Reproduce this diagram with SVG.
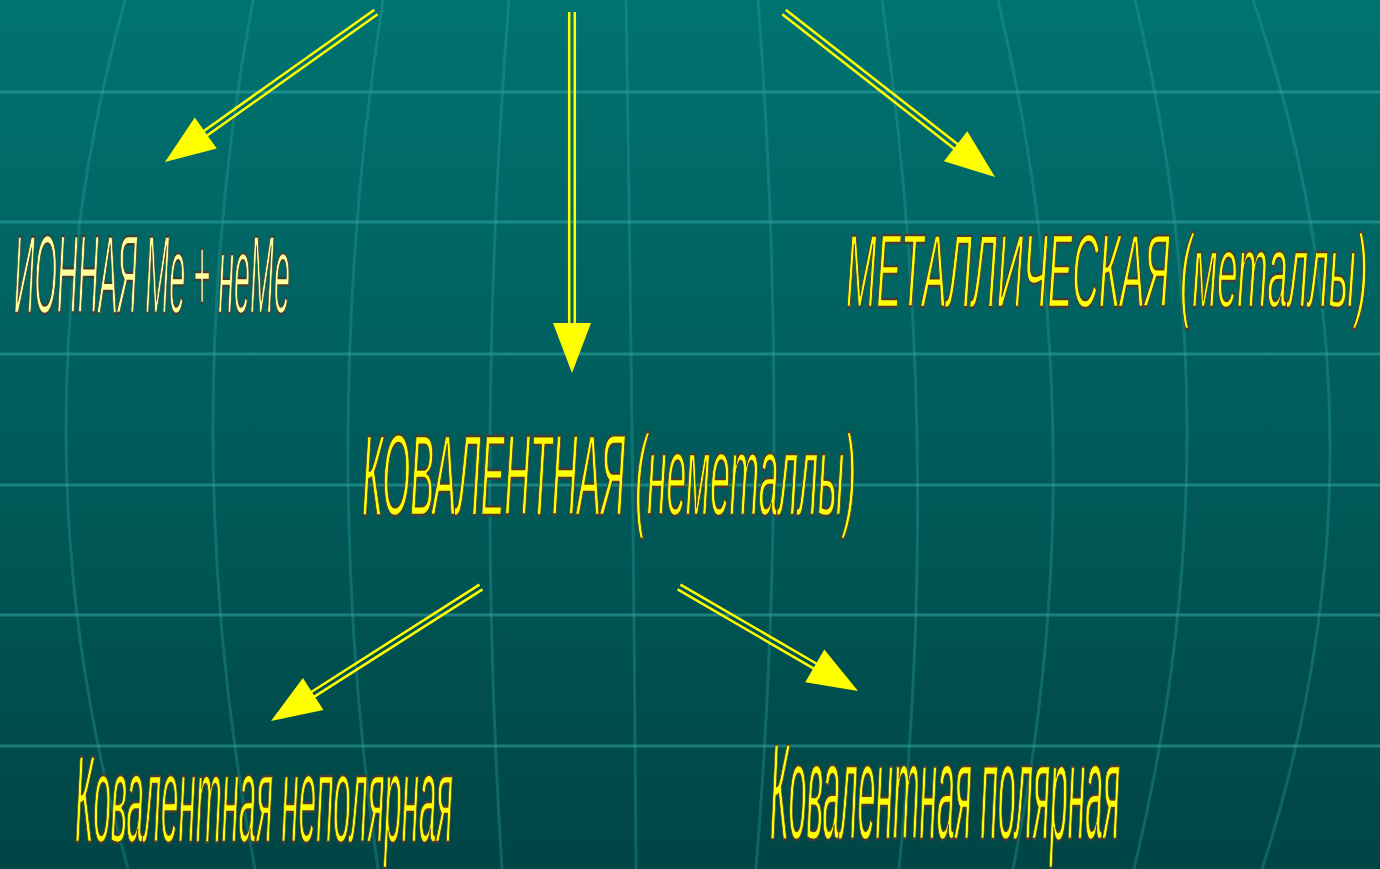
<svg xmlns="http://www.w3.org/2000/svg" width="1380" height="869" viewBox="0 0 1380 869">
<defs>
<linearGradient id="bg" x1="0" y1="0" x2="0" y2="1">
<stop offset="0" stop-color="#007371"/>
<stop offset="1" stop-color="#004545"/>
</linearGradient>
<g id="head"><polygon points="0,0 50,-19 50,19"/></g>
</defs>
<style>
.hl{stroke:#2fa8a4;stroke-opacity:0.55;stroke-width:3;fill:none}
.vl{stroke:#2fa8a4;stroke-opacity:0.32;stroke-width:3;fill:none}
.lbl{font-family:"Liberation Sans",Arial,sans-serif;font-style:italic;fill:#ffff00;stroke:#4a3c32;stroke-width:1.8;stroke-linejoin:round;vector-effect:non-scaling-stroke}
.pale{fill:#ffff9c;stroke:#3e3e36}
.shaft{stroke:#ffff00;stroke-width:2.5;fill:none}
.tip{fill:#ffff00}
</style>
<rect x="0" y="0" width="1380" height="869" fill="url(#bg)"/>
<g id="grid">
<path class="hl" d="M0 92H1380M0 222H1380M0 354H1380M0 485H1380M0 615H1380M0 746H1380"/>
<path class="vl" d="M125 0Q5.5 434.5 128 869"/>
<path class="vl" d="M253 0Q172 434.5 255 869"/>
<path class="vl" d="M383 0Q315.5 434.5 378 869"/>
<path class="vl" d="M509 0Q474.5 434.5 502 869"/>
<path class="vl" d="M626 0Q633 434.5 636 869"/>
<path class="vl" d="M758 0Q791 434.5 756 869"/>
<path class="vl" d="M882 0Q943.5 434.5 899 869"/>
<path class="vl" d="M998 0Q1100.5 434.5 1013 869"/>
<path class="vl" d="M1135 0Q1239.5 434.5 1134 869"/>
<path class="vl" d="M1253 0Q1402.5 434.5 1262 869"/>
</g>
<g id="connectors">
<g transform="translate(165,162) rotate(-35.4)">
<path class="shaft" d="M45 -2.8H258.9M45 2.8H258.9"/><use href="#head" class="tip"/>
</g>
<g transform="translate(572,373) rotate(-90)">
<path class="shaft" d="M45 -2.8H361M45 2.8H361"/><use href="#head" class="tip"/>
</g>
<g transform="translate(995,177) rotate(-141.97)">
<path class="shaft" d="M45 -2.8H267.9M45 2.8H267.9"/><use href="#head" class="tip"/>
</g>
<g transform="translate(271,721) rotate(-32.54)">
<path class="shaft" d="M45 -2.8H249.1M45 2.8H249.1"/><use href="#head" class="tip"/>
</g>
<g transform="translate(858,691) rotate(-149.84)">
<path class="shaft" d="M45 -2.8H207M45 2.8H207"/><use href="#head" class="tip"/>
</g>
</g>
<g id="node-ionic">
<text class="lbl pale" transform="translate(14,313) scale(0.256,1)" x="0" y="0" font-size="112" textLength="1078" lengthAdjust="spacingAndGlyphs">ИОННАЯ Ме + неМе</text>
</g>
<g id="node-metallic">
<text class="lbl" transform="translate(846,307) scale(0.364,1)" x="0" y="0" font-size="103" textLength="1434" lengthAdjust="spacingAndGlyphs">МЕТАЛЛИЧЕСКАЯ (металлы)</text>
</g>
<g id="node-covalent">
<text class="lbl" transform="translate(362,515) scale(0.3145,1)" x="0" y="0" font-size="115" textLength="1571" lengthAdjust="spacingAndGlyphs">КОВАЛЕНТНАЯ (неметаллы)</text>
</g>
<g id="node-nonpolar">
<text class="lbl" transform="translate(75,842) scale(0.2575,1)" x="0" y="0" font-size="124" textLength="1468" lengthAdjust="spacingAndGlyphs">Ковалентная неполярная</text>
</g>
<g id="node-polar">
<text class="lbl" transform="translate(770,839) scale(0.2381,1)" x="0" y="0" font-size="137" textLength="1470" lengthAdjust="spacingAndGlyphs">Ковалентная полярная</text>
</g>
</svg>
